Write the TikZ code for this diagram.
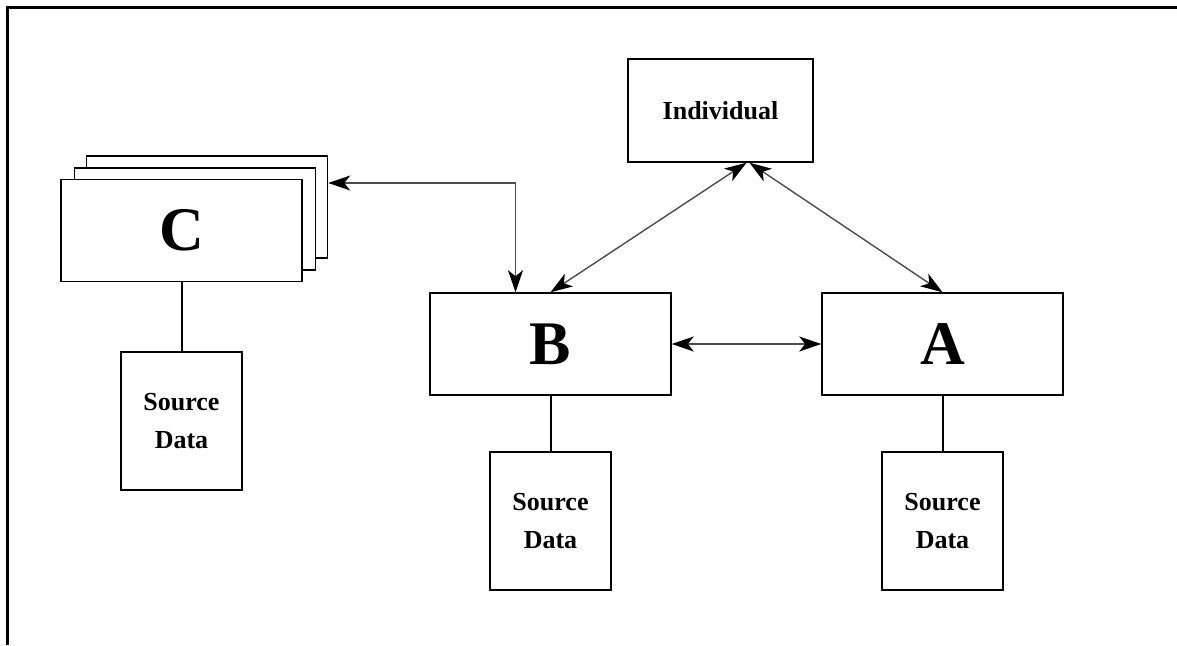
\documentclass[tikz,border=0pt]{standalone}
\usepackage{fontspec}
\setmainfont{Liberation Serif}
\usetikzlibrary{arrows.meta}
\begin{document}
\begin{tikzpicture}[x=1pt,y=-1pt,
  box/.style={draw=black,line width=1.5pt,fill=white,inner sep=0pt,minimum width=241pt,minimum height=102pt,font=\fontsize{62}{62}\selectfont\bfseries},
  srcbox/.style={draw=black,line width=1.5pt,fill=white,inner sep=0pt,minimum width=121pt,minimum height=138pt,align=center,font=\fontsize{26}{38}\selectfont\bfseries},
  indbox/.style={draw=black,line width=1.5pt,fill=white,inner sep=0pt,minimum width=185pt,minimum height=103pt,font=\fontsize{26}{30}\selectfont\bfseries},
  link/.style={draw=black,line width=2pt},
  conn/.style={draw=black!70,line width=1.4pt,{Stealth[length=22pt,width=15pt,inset=6pt,fill=black,color=black]}-{Stealth[length=22pt,width=15pt,inset=6pt,fill=black,color=black]}},
  frame/.style={draw=black,line width=3pt}
]
\useasboundingbox (0,0) rectangle (1177,645);
% frame
\coordinate (fTR) at (1177,7);
\coordinate (fTL) at (7,7);
\coordinate (fBL) at (7,645);
\draw[frame] (fTR) -- (fTL) -- (fBL);

% nodes
\node[indbox] (ind) at (720.5,110.5) {Individual};
\node[box] (Cback) at (207,207) {};
\node[box] (Cmid) at (195,219) {};
\node[box] (C) at (181.5,230.5) {C};
\node[box] (B) at (550.5,344) {B};
\node[box] (A) at (942.5,344) {A};
\node[srcbox] (srcC) at (181.5,421) {Source\\Data};
\node[srcbox] (srcB) at (550.5,521) {Source\\Data};
\node[srcbox] (srcA) at (942.5,521) {Source\\Data};

% links to source data
\draw[link] (C.south) -- (srcC.north);
\draw[link] (B.south) -- (srcB.north);
\draw[link] (A.south) -- (srcA.north);

% connectors
\coordinate (bend) at (515.5,183);
\coordinate (cEnd) at (Cback.east |- bend);
\draw[conn] (cEnd) -- (bend) -- (bend |- B.north);
\coordinate (ind1) at ([xshift=26pt]ind.south);
\coordinate (ind2) at ([xshift=29pt]ind.south);
\draw[conn] (B.north) -- (ind1);
\draw[conn] (A.north) -- (ind2);
\draw[conn] (B.east) -- (A.west);
\end{tikzpicture}
\end{document}
